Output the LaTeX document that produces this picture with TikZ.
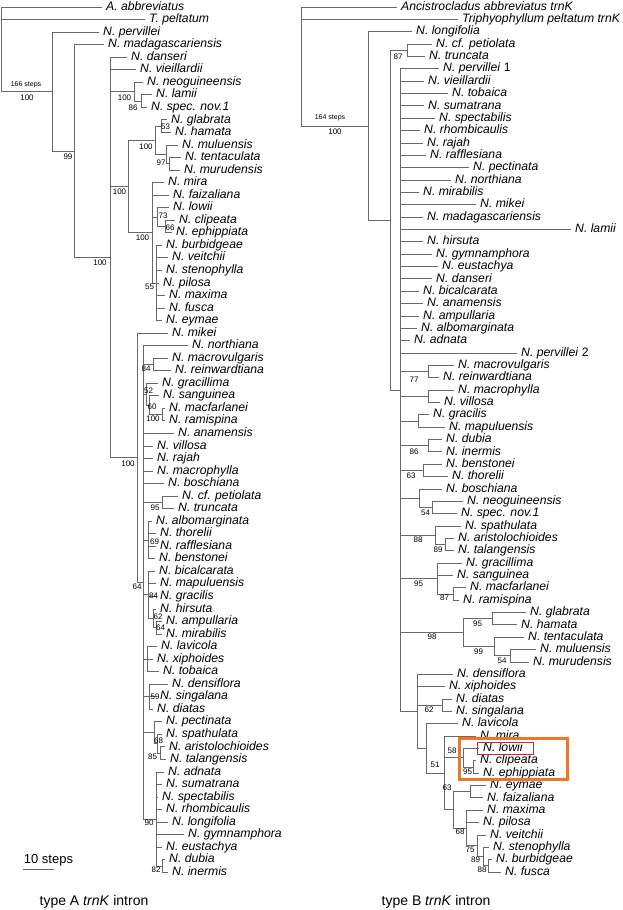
\documentclass[tikz,border=0pt]{standalone}
\usepackage{fontspec}
\setmainfont{Liberation Sans}
\definecolor{treeline}{RGB}{105,105,105}
\definecolor{boxorange}{RGB}{238,118,42}
\definecolor{boxred}{RGB}{196,40,56}
\tikzset{
  branch/.style={draw=treeline, line width=0.75pt},
  taxon/.style={anchor=west, xshift=-4pt, inner xsep=4pt, inner ysep=0pt,
    text height=8.5pt, text depth=2.2pt,
    font=\fontsize{12.2}{12.2}\selectfont\itshape},
  boot/.style={inner sep=0pt, font=\fontsize{8}{8}\selectfont},
  steps/.style={inner sep=0pt, font=\fontsize{7}{7}\selectfont},
  caption/.style={inner sep=0pt, font=\fontsize{14}{14}\selectfont},
}
\begin{document}
\begin{tikzpicture}[x=1pt,y=-1pt]
\useasboundingbox (0,0) rectangle (622,910);

% type A tree
\begin{scope}[y=-12.54pt, yshift=5.54pt]
\node[taxon] (aabbr) at (106,1) {A. abbreviatus};
\node[taxon] (apelt) at (149,2) {T. peltatum};
\node[taxon] (aperv) at (103,3) {N. pervillei};
\node[taxon] (amada) at (108,4) {N. madagascariensis};
\node[taxon] (adans) at (131,5) {N. danseri};
\node[taxon] (aviei) at (140,6) {N. vieillardii};
\node[taxon] (aneog) at (147,7) {N. neoguineensis};
\node[taxon] (alami) at (156,8) {N. lamii};
\node[taxon] (aspec) at (151,9) {N. spec. nov.1};
\node[taxon] (aglab) at (171,10) {N. glabrata};
\node[taxon] (ahama) at (175,11) {N. hamata};
\node[taxon] (amulu) at (182,12) {N. muluensis};
\node[taxon] (atent) at (185,13) {N. tentaculata};
\node[taxon] (amuru) at (184,14) {N. murudensis};
\node[taxon] (amira) at (168,15) {N. mira};
\node[taxon] (afaiz) at (173,16) {N. faizaliana};
\node[taxon] (alowi) at (173,17) {N. lowii};
\node[taxon] (aclip) at (179,18) {N. clipeata};
\node[taxon] (aephi) at (176,19) {N. ephippiata};
\node[taxon] (aburb) at (166,20) {N. burbidgeae};
\node[taxon] (aveit) at (172,21) {N. veitchii};
\node[taxon] (asten) at (166,22) {N. stenophylla};
\node[taxon] (apilo) at (163,23) {N. pilosa};
\node[taxon] (amaxi) at (169,24) {N. maxima};
\node[taxon] (afusc) at (169,25) {N. fusca};
\node[taxon] (aeyma) at (166,26) {N. eymae};
\node[taxon] (amike) at (172,27) {N. mikei};
\node[taxon] (anort) at (192,28) {N. northiana};
\node[taxon] (amacv) at (172,29) {N. macrovulgaris};
\node[taxon] (arein) at (175,30) {N. reinwardtiana};
\node[taxon] (agrcm) at (162,31) {N. gracillima};
\node[taxon] (asang) at (163,32) {N. sanguinea};
\node[taxon] (amacf) at (169,33) {N. macfarlanei};
\node[taxon] (arami) at (169,34) {N. ramispina};
\node[taxon] (aanam) at (178,35) {N. anamensis};
\node[taxon] (avill) at (157,36) {N. villosa};
\node[taxon] (araja) at (157,37) {N. rajah};
\node[taxon] (amacp) at (157,38) {N. macrophylla};
\node[taxon] (abosc) at (168,39) {N. boschiana};
\node[taxon] (apeti) at (182,40) {N. cf. petiolata};
\node[taxon] (atrun) at (178,41) {N. truncata};
\node[taxon] (aalbo) at (156,42) {N. albomarginata};
\node[taxon] (athor) at (160,43) {N. thorelii};
\node[taxon] (araff) at (160,44) {N. rafflesiana};
\node[taxon] (abens) at (159,45) {N. benstonei};
\node[taxon] (abica) at (159,46) {N. bicalcarata};
\node[taxon] (amapu) at (160,47) {N. mapuluensis};
\node[taxon] (agrcs) at (160,48) {N. gracilis};
\node[taxon] (ahirs) at (160,49) {N. hirsuta};
\node[taxon] (aampu) at (166,50) {N. ampullaria};
\node[taxon] (amirb) at (166,51) {N. mirabilis};
\node[taxon] (alavi) at (161,52) {N. lavicola};
\node[taxon] (axiph) at (157,53) {N. xiphoides};
\node[taxon] (atoba) at (163,54) {N. tobaica};
\node[taxon] (adens) at (172,55) {N. densiflora};
\node[taxon] (asing) at (160,56) {N. singalana};
\node[taxon] (adiat) at (157,57) {N. diatas};
\node[taxon] (apect) at (166,58) {N. pectinata};
\node[taxon] (aspat) at (166,59) {N. spathulata};
\node[taxon] (aaris) at (169,60) {N. aristolochioides};
\node[taxon] (atala) at (170,61) {N. talangensis};
\node[taxon] (aadna) at (168,62) {N. adnata};
\node[taxon] (asuma) at (166,63) {N. sumatrana};
\node[taxon] (aspcb) at (162,64) {N. spectabilis};
\node[taxon] (arhom) at (166,65) {N. rhombicaulis};
\node[taxon] (along) at (172,66) {N. longifolia};
\node[taxon] (agymn) at (188,67) {N. gymnamphora};
\node[taxon] (aeust) at (166,68) {N. eustachya};
\node[taxon] (adubi) at (169,69) {N. dubia};
\node[taxon] (ainer) at (172,70) {N. inermis};

\coordinate (aroot) at (1,4.371);
\coordinate (anep) at (52,7.742);
\coordinate (a99) at (74,12.484);
\coordinate (a100a) at (110,20.969);
\coordinate (a100n) at (134,7.75);
\coordinate (a86) at (141,8.5);
\coordinate (a100b) at (128,15.313);
\coordinate (a100c) at (155,11.625);
\coordinate (a53) at (161,10.5);
\coordinate (amu) at (166,12.75);
\coordinate (a97) at (169,13.5);
\coordinate (a100d) at (152,19);
\coordinate (a73) at (157,17.75);
\coordinate (a66) at (165,18.5);
\coordinate (a55) at (156,23);
\coordinate (a100e) at (137,36.938);
\coordinate (a64) at (143,46.875);
\coordinate (a84) at (153,29.5);
\coordinate (a52) at (146,31.875);
\coordinate (a60) at (149,32.75);
\coordinate (a100f) at (162,33.5);
\coordinate (a95) at (162,40.5);
\coordinate (a69) at (148,43.5);
\coordinate (a84b) at (148,47.875);
\coordinate (a62) at (153,49.75);
\coordinate (a64b) at (156,50.5);
\coordinate (alav) at (147,53);
\coordinate (a59) at (149,56);
\coordinate (apec) at (154,58.875);
\coordinate (a68) at (157,59.75);
\coordinate (a85) at (160,60.5);
\coordinate (a90) at (156,65.75);
\coordinate (a82) at (162,69.5);

\draw[branch] (aroot) |- (aabbr.west) (aroot) |- (apelt.west) (aroot) |- (anep);
\draw[branch] (anep) |- (aperv.west) (anep) |- (a99);
\draw[branch] (a99) |- (amada.west) (a99) |- (a100a);
\draw[branch] (a100a) |- (adans.west) (a100a) |- (aviei.west) (a100a) |- (a100n)
  (a100a) |- (a100b) (a100a) |- (a100e);
\draw[branch] (a100n) |- (aneog.west) (a100n) |- (a86);
\draw[branch] (a86) |- (alami.west) (a86) |- (aspec.west);
\draw[branch] (a100b) |- (a100c) (a100b) |- (a100d);
\draw[branch] (a100c) |- (a53) (a100c) |- (amu);
\draw[branch] (a53) |- (aglab.west) (a53) |- (ahama.west);
\draw[branch] (amu) |- (amulu.west) (amu) |- (a97);
\draw[branch] (a97) |- (atent.west) (a97) |- (amuru.west);
\draw[branch] (a100d) |- (amira.west) (a100d) |- (afaiz.west) (a100d) |- (a73) (a100d) |- (a55);
\draw[branch] (a73) |- (alowi.west) (a73) |- (a66);
\draw[branch] (a66) |- (aclip.west) (a66) |- (aephi.west);
\draw[branch] (a55) |- (aburb.west) (a55) |- (aveit.west) (a55) |- (asten.west)
  (a55) |- (apilo.west) (a55) |- (amaxi.west) (a55) |- (afusc.west) (a55) |- (aeyma.west);
\draw[branch] (a100e) |- (amike.west) (a100e) |- (a64);
\draw[branch] (a64) |- (anort.west) (a64) |- (a84) (a64) |- (a52) (a64) |- (aanam.west)
  (a64) |- (avill.west) (a64) |- (araja.west) (a64) |- (amacp.west) (a64) |- (abosc.west)
  (a64) |- (a95) (a64) |- (a69) (a64) |- (a84b) (a64) |- (alav) (a64) |- (a59)
  (a64) |- (apec) (a64) |- (a90);
\draw[branch] (a84) |- (amacv.west) (a84) |- (arein.west);
\draw[branch] (a52) |- (agrcm.west) (a52) |- (a60);
\draw[branch] (a60) |- (asang.west) (a60) |- (a100f);
\draw[branch] (a100f) |- (amacf.west) (a100f) |- (arami.west);
\draw[branch] (a95) |- (apeti.west) (a95) |- (atrun.west);
\draw[branch] (a69) |- (aalbo.west) (a69) |- (athor.west) (a69) |- (araff.west) (a69) |- (abens.west);
\draw[branch] (a84b) |- (abica.west) (a84b) |- (amapu.west) (a84b) |- (agrcs.west) (a84b) |- (a62);
\draw[branch] (a62) |- (ahirs.west) (a62) |- (a64b);
\draw[branch] (a64b) |- (aampu.west) (a64b) |- (amirb.west);
\draw[branch] (alav) |- (alavi.west) (alav) |- (axiph.west) (alav) |- (atoba.west);
\draw[branch] (a59) |- (adens.west) (a59) |- (asing.west) (a59) |- (adiat.west);
\draw[branch] (apec) |- (apect.west) (apec) |- (a68);
\draw[branch] (a68) |- (aspat.west) (a68) |- (a85);
\draw[branch] (a85) |- (aaris.west) (a85) |- (atala.west);
\draw[branch] (a90) |- (aadna.west) (a90) |- (asuma.west) (a90) |- (aspcb.west)
  (a90) |- (arhom.west) (a90) |- (along.west) (a90) |- (agymn.west) (a90) |- (aeust.west)
  (a90) |- (a82);
\draw[branch] (a82) |- (adubi.west) (a82) |- (ainer.west);
\end{scope}

% type B tree
\begin{scope}[y=-12.357pt, yshift=5.357pt]
\node[taxon] (bancs) at (401,1) {Ancistrocladus abbreviatus trnK};
\node[taxon] (btrip) at (462,2) {Triphyophyllum peltatum trnK};
\node[taxon] (blong) at (416,3) {N. longifolia};
\node[taxon] (bpeti) at (436,4) {N. cf. petiolata};
\node[taxon] (btrun) at (429,5) {N. truncata};
\node[taxon] (bperA) at (443,6) {N. pervillei \textup{1}};
\node[taxon] (bviei) at (428,7) {N. vieillardii};
\node[taxon] (btoba) at (452,8) {N. tobaica};
\node[taxon] (bsuma) at (428,9) {N. sumatrana};
\node[taxon] (bspcb) at (439,10) {N. spectabilis};
\node[taxon] (brhom) at (424,11) {N. rhombicaulis};
\node[taxon] (braja) at (427,12) {N. rajah};
\node[taxon] (braff) at (430,13) {N. rafflesiana};
\node[taxon] (bpect) at (473,14) {N. pectinata};
\node[taxon] (bnort) at (455,15) {N. northiana};
\node[taxon] (bmirb) at (423,16) {N. mirabilis};
\node[taxon] (bmike) at (480,17) {N. mikei};
\node[taxon] (bmada) at (427,18) {N. madagascariensis};
\node[taxon] (blami) at (575,19) {N. lamii};
\node[taxon] (bhirs) at (427,20) {N. hirsuta};
\node[taxon] (bgymn) at (436,21) {N. gymnamphora};
\node[taxon] (beust) at (442,22) {N. eustachya};
\node[taxon] (bdans) at (436,23) {N. danseri};
\node[taxon] (bbica) at (423,24) {N. bicalcarata};
\node[taxon] (banam) at (427,25) {N. anamensis};
\node[taxon] (bampu) at (423,26) {N. ampullaria};
\node[taxon] (balbo) at (421,27) {N. albomarginata};
\node[taxon] (badna) at (414,28) {N. adnata};
\node[taxon] (bperB) at (521,29) {N. pervillei \textup{2}};
\node[taxon] (bmacv) at (458,30) {N. macrovulgaris};
\node[taxon] (brein) at (443,31) {N. reinwardtiana};
\node[taxon] (bmacp) at (458,32) {N. macrophylla};
\node[taxon] (bvill) at (444,33) {N. villosa};
\node[taxon] (bgrcs) at (433,34) {N. gracilis};
\node[taxon] (bmapu) at (449,35) {N. mapuluensis};
\node[taxon] (bdubi) at (446,36) {N. dubia};
\node[taxon] (biner) at (446,37) {N. inermis};
\node[taxon] (bbens) at (446,38) {N. benstonei};
\node[taxon] (bthor) at (452,39) {N. thorelii};
\node[taxon] (bbosc) at (446,40) {N. boschiana};
\node[taxon] (bneog) at (467,41) {N. neoguineensis};
\node[taxon] (bspec) at (461,42) {N. spec. nov.1};
\node[taxon] (bspat) at (465,43) {N. spathulata};
\node[taxon] (baris) at (458,44) {N. aristolochioides};
\node[taxon] (btala) at (458,45) {N. talangensis};
\node[taxon] (bgrcm) at (466,46) {N. gracillima};
\node[taxon] (bsang) at (457,47) {N. sanguinea};
\node[taxon] (bmacf) at (470,48) {N. macfarlanei};
\node[taxon] (brami) at (463,49) {N. ramispina};
\node[taxon] (bglab) at (530,50) {N. glabrata};
\node[taxon] (bhama) at (521,51) {N. hamata};
\node[taxon] (btent) at (528,52) {N. tentaculata};
\node[taxon] (bmulu) at (540,53) {N. muluensis};
\node[taxon] (bmuru) at (533,54) {N. murudensis};
\node[taxon] (bdens) at (457,55) {N. densiflora};
\node[taxon] (bxiph) at (449,56) {N. xiphoides};
\node[taxon] (bdiat) at (456,57) {N. diatas};
\node[taxon] (bsing) at (456,58) {N. singalana};
\node[taxon] (blavi) at (462,59) {N. lavicola};
\node[taxon] (bmira) at (480,60) {N. mira};
\node[taxon] (blowi) at (483,61) {N. lowii};
\node[taxon] (bclip) at (480,62) {N. clipeata};
\node[taxon] (bephi) at (483,63) {N. ephippiata};
\node[taxon] (beyma) at (490,64) {N. eymae};
\node[taxon] (bfaiz) at (487,65) {N. faizaliana};
\node[taxon] (bmaxi) at (487,66) {N. maxima};
\node[taxon] (bpilo) at (483,67) {N. pilosa};
\node[taxon] (bveit) at (490,68) {N. veitchii};
\node[taxon] (bsten) at (493,69) {N. stenophylla};
\node[taxon] (bburb) at (496,70) {N. burbidgeae};
\node[taxon] (bfusc) at (505,71) {N. fusca};

\coordinate (broot) at (301,5.81);
\coordinate (bnep) at (368,10.62);
\coordinate (br2) at (390,18.25);
\coordinate (b87) at (407,4.5);
\coordinate (bbig) at (400,31.995);
\coordinate (b77) at (428,30.5);
\coordinate (bmv) at (428,32.5);
\coordinate (bgm) at (418,34.5);
\coordinate (b86) at (428,36.5);
\coordinate (b63) at (423,38.5);
\coordinate (bbo) at (419,40.75);
\coordinate (b54) at (432,41.5);
\coordinate (b88) at (435,43.75);
\coordinate (b89) at (445,44.5);
\coordinate (b95) at (437,47.25);
\coordinate (b87b) at (453,48.5);
\coordinate (b98) at (463,51.625);
\coordinate (b95g) at (492,50.5);
\coordinate (b99) at (494,52.75);
\coordinate (b54g) at (510,53.5);
\coordinate (bden) at (417,57.99);
\coordinate (b62) at (442,57.5);
\coordinate (blav) at (426,60.99);
\coordinate (b51) at (444,62.98);
\coordinate (b58) at (463,61.75);
\coordinate (b95c) at (473,62.5);
\coordinate (b63b) at (453,65.97);
\coordinate (bef) at (470,64.5);
\coordinate (b68) at (466,67.4375);
\coordinate (b75) at (477,68.875);
\coordinate (b89b) at (483,69.75);
\coordinate (b88b) at (488,70.5);

\draw[branch] (broot) |- (bancs.west) (broot) |- (btrip.west) (broot) |- (bnep);
\draw[branch] (bnep) |- (blong.west) (bnep) |- (br2);
\draw[branch] (br2) |- (b87) (br2) |- (bbig);
\draw[branch] (b87) |- (bpeti.west) (b87) |- (btrun.west);
\draw[branch] (bbig) |- (bperA.west) (bbig) |- (bviei.west) (bbig) |- (btoba.west)
  (bbig) |- (bsuma.west) (bbig) |- (bspcb.west) (bbig) |- (brhom.west) (bbig) |- (braja.west)
  (bbig) |- (braff.west) (bbig) |- (bpect.west) (bbig) |- (bnort.west) (bbig) |- (bmirb.west)
  (bbig) |- (bmike.west) (bbig) |- (bmada.west) (bbig) |- (blami.west) (bbig) |- (bhirs.west)
  (bbig) |- (bgymn.west) (bbig) |- (beust.west) (bbig) |- (bdans.west) (bbig) |- (bbica.west)
  (bbig) |- (banam.west) (bbig) |- (bampu.west) (bbig) |- (balbo.west) (bbig) |- (badna.west)
  (bbig) |- (bperB.west) (bbig) |- (b77) (bbig) |- (bmv) (bbig) |- (bgm) (bbig) |- (b86)
  (bbig) |- (b63) (bbig) |- (bbo) (bbig) |- (b88) (bbig) |- (b95) (bbig) |- (b98)
  (bbig) |- (bden);
\draw[branch] (b77) |- (bmacv.west) (b77) |- (brein.west);
\draw[branch] (bmv) |- (bmacp.west) (bmv) |- (bvill.west);
\draw[branch] (bgm) |- (bgrcs.west) (bgm) |- (bmapu.west);
\draw[branch] (b86) |- (bdubi.west) (b86) |- (biner.west);
\draw[branch] (b63) |- (bbens.west) (b63) |- (bthor.west);
\draw[branch] (bbo) |- (bbosc.west) (bbo) |- (b54);
\draw[branch] (b54) |- (bneog.west) (b54) |- (bspec.west);
\draw[branch] (b88) |- (bspat.west) (b88) |- (b89);
\draw[branch] (b89) |- (baris.west) (b89) |- (btala.west);
\draw[branch] (b95) |- (bgrcm.west) (b95) |- (bsang.west) (b95) |- (b87b);
\draw[branch] (b87b) |- (bmacf.west) (b87b) |- (brami.west);
\draw[branch] (b98) |- (b95g) (b98) |- (b99);
\draw[branch] (b95g) |- (bglab.west) (b95g) |- (bhama.west);
\draw[branch] (b99) |- (btent.west) (b99) |- (b54g);
\draw[branch] (b54g) |- (bmulu.west) (b54g) |- (bmuru.west);
\draw[branch] (bden) |- (bdens.west) (bden) |- (bxiph.west) (bden) |- (b62) (bden) |- (blav);
\draw[branch] (b62) |- (bdiat.west) (b62) |- (bsing.west);
\draw[branch] (blav) |- (blavi.west) (blav) |- (b51);
\draw[branch] (b51) |- (bmira.west) (b51) |- (b58) (b51) |- (b63b);
\draw[branch] (b58) |- (blowi.west) (b58) |- (b95c);
\draw[branch] (b95c) |- (bclip.west) (b95c) |- (bephi.west);
\draw[branch] (b63b) |- (bef) (b63b) |- (b68);
\draw[branch] (bef) |- (beyma.west) (bef) |- (bfaiz.west);
\draw[branch] (b68) |- (bmaxi.west) (b68) |- (bpilo.west) (b68) |- (b75);
\draw[branch] (b75) |- (bveit.west) (b75) |- (b89b);
\draw[branch] (b89b) |- (bsten.west) (b89b) |- (b88b);
\draw[branch] (b88b) |- (bburb.west) (b88b) |- (bfusc.west);
\end{scope}

% support values, type A
\node[steps] (sa) at (26,85) {166 steps};
\node[boot] (la100r) at (27,98) {100};
\node[boot] (la99) at (68,157) {99};
\node[boot] (la100a) at (100,263) {100};
\node[boot] (la100n) at (124.5,98) {100};
\node[boot] (la86) at (133,108) {86};
\node[boot] (la100b) at (119.5,192) {100};
\node[boot] (la100c) at (146,147) {100};
\node[boot] (la53) at (165.5,127) {53};
\node[boot] (la97) at (161,163) {97};
\node[boot] (la100d) at (142.5,238) {100};
\node[boot] (la73) at (163,216) {73};
\node[boot] (la66) at (170,227.5) {66};
\node[boot] (la55) at (149.5,287) {55};
\node[boot] (la84) at (146,369) {84};
\node[boot] (la52) at (148.5,391) {52};
\node[boot] (la60) at (152,407) {60};
\node[boot] (la100f) at (153,419) {100};
\node[boot] (la100e) at (128,464) {100};
\node[boot] (la95) at (155,508) {95};
\node[boot] (la69) at (154.5,542) {69};
\node[boot] (la64) at (137,587) {64};
\node[boot] (la84b) at (153.5,596) {84};
\node[boot] (la62) at (158,617) {62};
\node[boot] (la64b) at (160.5,628) {64};
\node[boot] (la59) at (155,697) {59};
\node[boot] (la68) at (158.5,741) {68};
\node[boot] (la85) at (152.5,757) {85};
\node[boot] (la90) at (149,823) {90};
\node[boot] (la82) at (156,870) {82};

% support values, type B
\node[steps] (sb) at (330,118) {164 steps};
\node[boot] (lb100r) at (335,132) {100};
\node[boot] (lb87) at (398,57) {87};
\node[boot] (lb77) at (414,380) {77};
\node[boot] (lb86) at (414,452) {86};
\node[boot] (lb63) at (411,476) {63};
\node[boot] (lb54) at (425.5,513) {54};
\node[boot] (lb88) at (418,540) {88};
\node[boot] (lb89) at (438,550) {89};
\node[boot] (lb95) at (418.5,584) {95};
\node[boot] (lb87b) at (444.5,598) {87};
\node[boot] (lb98) at (432,637) {98};
\node[boot] (lb95g) at (477.5,624) {95};
\node[boot] (lb99) at (478.5,652) {99};
\node[boot] (lb54g) at (502,661) {54};
\node[boot] (lb62) at (429,710) {62};
\node[boot] (lb58) at (452,751) {58};
\node[boot] (lb51) at (435,765) {51};
\node[boot] (lb95c) at (467.5,772) {95};
\node[boot] (lb63b) at (447,788) {63};
\node[boot] (lb68) at (460,832) {68};
\node[boot] (lb75) at (470,850) {75};
\node[boot] (lb89b) at (475.5,860) {89};
\node[boot] (lb88b) at (482,870) {88};

% highlight of N. lowii, N. clipeata, N. ephippiata
\draw[boxorange, line width=3pt] (459,738.5) rectangle (567,779.5);
\draw[boxred, line width=0.6pt] (477,742) rectangle (533,754);

% scale bar and captions
\node[inner sep=0pt, font=\fontsize{13}{13}\selectfont] (scale) at (48.5,860) {10 steps};
\coordinate (scalel) at (23,869);
\coordinate (scaler) at (54,869);
\draw[branch] (scalel) -- (scaler);
\node[caption] (capa) at (94,902) {type A \textit{trnK} intron};
\node[caption] (capb) at (436,902) {type B \textit{trnK} intron};
\end{tikzpicture}
\end{document}
